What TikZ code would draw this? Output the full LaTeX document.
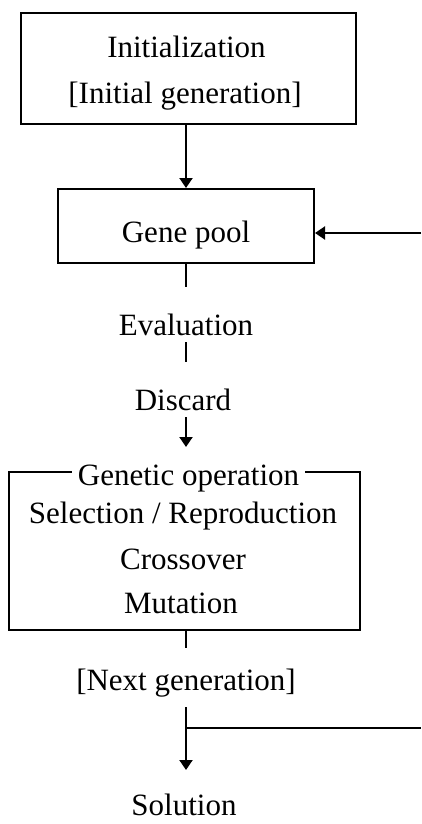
\documentclass[tikz,border=0pt]{standalone}
\usepackage{fontspec}
\setmainfont{Liberation Serif}
\usepackage{tikz}
\usetikzlibrary{arrows.meta}
\newcommand{\chartfont}{\fontsize{31pt}{46pt}\selectfont}
\tikzstyle{stage}=[draw, inner sep=0, align=center, font=\chartfont]
\tikzstyle{flowtext}=[inner sep=0, outer sep=0, anchor=base, text height=22pt, text depth=7pt, font=\chartfont]
\tikzstyle{flowarrow}=[-{Triangle[width=13pt, length=10pt]}]
\tikzstyle{flowchart}=[x=1pt, y=-1pt, line width=2pt,
                       % Fix the page to the size of the original picture.
                       execute at begin picture={\useasboundingbox (0, 0) rectangle (421, 824);}]

\begin{document}
\begin{tikzpicture}[flowchart]
        \node[stage, minimum width=335pt, minimum height=111pt] (init) at (188.5, 68.5) {};
        \node[flowtext]                  (initname) at (186.5, 58) {Initialization};
        \node[flowtext]                  (initgen)  at (185, 104) {[Initial generation]};
        \node[stage, minimum width=256pt, minimum height=74pt, text height=32pt, text depth=0pt] (pool) at (186, 226) {Gene pool};
        \node[flowtext]                  (eval)     at (186, 335) {Evaluation};
        \node[flowtext]                  (discard)  at (183, 410) {Discard};
        \node[stage, minimum width=351pt, minimum height=158pt] (genop) at (184.5, 551) {};
        \node[flowtext, fill=white, inner xsep=6pt] (title) at (188.5, 485) {Genetic operation};
        \node[flowtext]                  (sel)      at (183, 523) {Selection / Reproduction};
        \node[flowtext]                  (cross)    at (183, 569) {Crossover};
        \node[flowtext]                  (mut)      at (181, 613) {Mutation};
        \node[flowtext]                  (next)     at (186, 690) {[Next generation]};
        \node[flowtext]                  (solution) at (184, 815) {Solution};
        \coordinate (loopin)  at (421, 233);
        \coordinate (loopout) at (421, 728);
        \draw[flowarrow] (init.south -| pool) -- (pool);
        \draw[flowarrow] (loopin) -- (pool.east |- loopin);
        \draw[shorten >=26pt] (pool) -- (pool |- eval.north);
        \draw[shorten >=26pt] (eval.south -| pool) -- (pool |- discard.north);
        \draw[flowarrow, shorten >=16pt] (discard.south -| pool) -- (pool |- title.north);
        \draw[shorten >=20pt] (genop.south -| next) -- (next);
        \draw[flowarrow, shorten <=10pt, shorten >=23pt] (next) -- (next |- solution.north);
        \draw (next |- loopout) -- (loopout);
    \end{tikzpicture}
\end{document}
